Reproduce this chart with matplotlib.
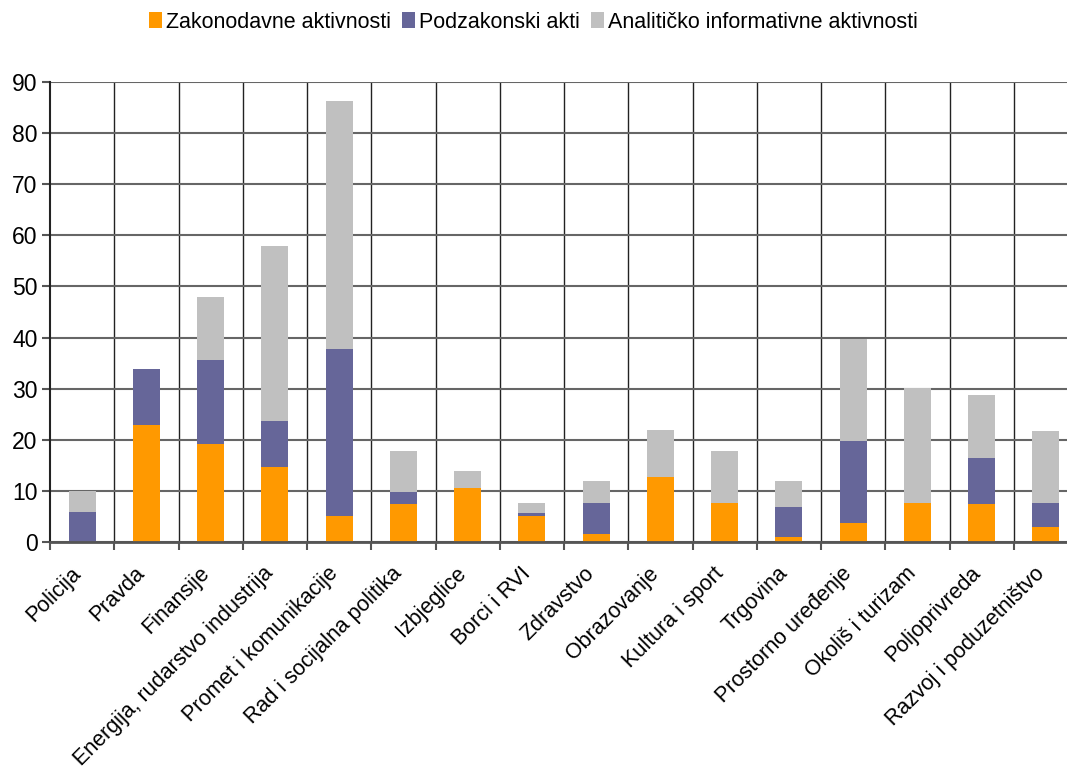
import matplotlib
matplotlib.use("Agg")
import matplotlib.pyplot as plt
import matplotlib.transforms as mtransforms
import numpy as np

plt.rcParams['font.family'] = ['Liberation Sans', 'DejaVu Sans']

categories = ["Policija", "Pravda", "Finansije", "Energija, rudarstvo industrija",
              "Promet i komunikacije", "Rad i socijalna politika", "Izbjeglice",
              "Borci i RVI", "Zdravstvo", "Obrazovanje", "Kultura i sport", "Trgovina",
              "Prostorno uređenje", "Okoliš i turizam", "Poljoprivreda",
              "Razvoj i poduzetništvo"]
zakonodavne = [0, 22.8, 19.1, 14.6, 5.0, 7.5, 10.6, 5.0, 1.6, 12.8, 7.7, 0.9, 3.8, 7.7, 7.5, 2.9]
podzakonski = [5.8, 11.1, 16.6, 9.0, 32.8, 2.3, 0, 0.6, 6.1, 0, 0, 5.9, 16.0, 0, 9.0, 4.8]
analiticko = [4.2, 0, 12.3, 34.4, 48.4, 8.0, 3.3, 2.1, 4.3, 9.1, 10.1, 5.2, 20.0, 22.4, 12.2, 14.0]

series_names = ["Zakonodavne aktivnosti", "Podzakonski akti", "Analitičko informativne aktivnosti"]
colors = ["#FF9900", "#666699", "#C0C0C0"]

fig = plt.figure(figsize=(10.67, 7.71), dpi=100)
ax = fig.add_axes([50/1067, 1-542/771, 1028/1067, (542-82)/771])

x = np.arange(len(categories))
z = np.array(zakonodavne); p = np.array(podzakonski); a = np.array(analiticko)
w = 0.42
ax.bar(x, z, w, color=colors[0], label=series_names[0], zorder=3)
ax.bar(x, p, w, bottom=z, color=colors[1], label=series_names[1], zorder=3)
ax.bar(x, a, w, bottom=z + p, color=colors[2], label=series_names[2], zorder=3)

ax.set_xlim(-0.5, len(categories) - 0.5)
ax.set_ylim(0, 90)
ax.set_yticks(np.arange(0, 91, 10))
ax.yaxis.grid(True, color="#666666", linewidth=1.5, zorder=1)
for b in np.arange(0.5, len(categories) - 0.5, 1):
    ax.axvline(b, color="#222222", linewidth=1.0, zorder=1)

ax.set_xticks(x)
ax.set_xticklabels(categories, rotation=45, ha='right', rotation_mode='anchor', fontsize=15.5)
ax.tick_params(axis='x', length=0, pad=10)
offset = mtransforms.ScaledTranslation(-12/100, -7/100, fig.dpi_scale_trans)
for lbl in ax.get_xticklabels():
    lbl.set_transform(lbl.get_transform() + offset)
ax.set_xticks(np.arange(-0.5, len(categories), 1), minor=True)
ax.tick_params(axis='x', which='minor', length=6, color="#555555", width=1.5)
ax.tick_params(axis='y', length=6, color="#555555", width=1.5, labelsize=16.5, pad=3)

for s in ['top', 'right']:
    ax.spines[s].set_visible(False)
ax.spines['left'].set_color("#222222")
ax.spines['left'].set_linewidth(1.5)
ax.spines['bottom'].set_color("#555555")
ax.spines['bottom'].set_linewidth(2)
ax.spines['left'].set_zorder(4)
ax.spines['bottom'].set_zorder(4)

fig.legend(loc='center', bbox_to_anchor=(0.5, 1-22/771), ncol=3, frameon=False,
           fontsize=15.5, handlelength=0.6, handleheight=0.75, handletextpad=0.2,
           columnspacing=0.5)

fig.savefig("out.png", dpi=100)
